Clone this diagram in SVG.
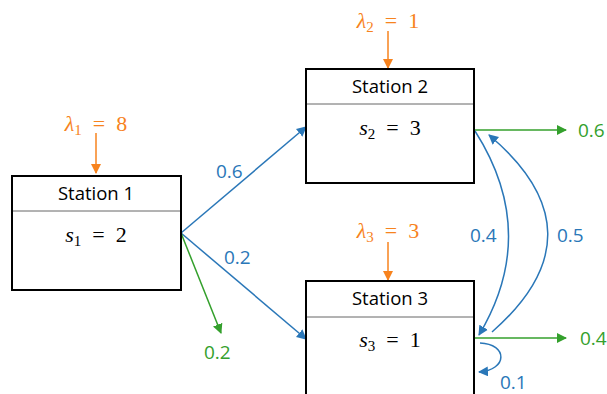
<svg xmlns="http://www.w3.org/2000/svg" width="607" height="394" viewBox="0 0 607 394">
<defs>
<marker id="ab" viewBox="0 0 10 10" refX="9" refY="5" markerWidth="10" markerHeight="10" markerUnits="userSpaceOnUse" orient="auto"><path d="M0,0 L10,5 L0,10 z" fill="#2a77b8"/></marker>
<marker id="ag" viewBox="0 0 10 10" refX="9" refY="5" markerWidth="10" markerHeight="10" markerUnits="userSpaceOnUse" orient="auto"><path d="M0,0 L10,5 L0,10 z" fill="#34a02c"/></marker>
<marker id="ao" viewBox="0 0 10 10" refX="9" refY="5" markerWidth="10" markerHeight="10" markerUnits="userSpaceOnUse" orient="auto"><path d="M0,0 L10,5 L0,10 z" fill="#f7831e"/></marker>
</defs>
<style>
.box{fill:#fff;stroke:#000;stroke-width:2}
.div{stroke:#666;stroke-width:1}
.title{font-family:"Open Sans","Liberation Sans",sans-serif;font-size:18.5px;fill:#000;text-anchor:middle}
.math{font-family:"Liberation Serif","DejaVu Serif",serif;font-size:22px;fill:#000;text-anchor:middle}
.it{font-style:italic}
.sub{font-size:15px}
.b{stroke:#2a77b8;stroke-width:1.5;fill:none}
.g{stroke:#34a02c;stroke-width:1.5;fill:none}
.o{stroke:#f7831e;stroke-width:1.5;fill:none}
.lb{font-family:"Open Sans","Liberation Sans",sans-serif;font-size:19px;fill:#2a77b8}
.lg{font-family:"Open Sans","Liberation Sans",sans-serif;font-size:19px;fill:#34a02c}
.lo{font-family:"Liberation Serif","DejaVu Serif",serif;font-size:22px;fill:#f7831e;text-anchor:middle}
</style>
<g id="connectors">
<line class="o" x1="96" y1="133" x2="96" y2="173" marker-end="url(#ao)"/>
<line class="o" x1="388" y1="31" x2="388" y2="68" marker-end="url(#ao)"/>
<line class="o" x1="388" y1="242" x2="388" y2="280" marker-end="url(#ao)"/>
<line class="b" x1="181" y1="233" x2="306" y2="127" marker-end="url(#ab)"/>
<line class="b" x1="181" y1="233" x2="306" y2="339" marker-end="url(#ab)"/>
<line class="g" x1="181" y1="233" x2="221" y2="333" marker-end="url(#ag)"/>
<line class="g" x1="474" y1="130" x2="566" y2="130" marker-end="url(#ag)"/>
<line class="g" x1="474" y1="338" x2="566" y2="338" marker-end="url(#ag)"/>
<path class="b" d="M475,131 Q540,233 479,335" marker-end="url(#ab)"/>
<path class="b" d="M492,332 Q605,233 489,135" marker-end="url(#ab)"/>
<path class="b" d="M480,343 C508,344 508,370 479,372" marker-end="url(#ab)"/>
<text class="lb" x="216" y="178">0.6</text>
<text class="lb" x="224" y="264">0.2</text>
<text class="lg" x="204" y="359">0.2</text>
<text class="lg" x="578" y="137">0.6</text>
<text class="lg" x="580" y="345">0.4</text>
<text class="lb" x="470" y="242">0.4</text>
<text class="lb" x="557" y="242">0.5</text>
<text class="lb" x="500" y="389">0.1</text>
<text class="lo" x="96" y="131" xml:space="preserve"><tspan class="it">λ</tspan><tspan class="sub" dy="4">1</tspan><tspan dy="-4">  =  8</tspan></text>
<text class="lo" x="388" y="28" xml:space="preserve"><tspan class="it">λ</tspan><tspan class="sub" dy="4">2</tspan><tspan dy="-4">  =  1</tspan></text>
<text class="lo" x="388" y="238" xml:space="preserve"><tspan class="it">λ</tspan><tspan class="sub" dy="4">3</tspan><tspan dy="-4">  =  3</tspan></text>
</g>
<g id="station1">
<rect class="box" x="12" y="176" width="169" height="114"/>
<line class="div" x1="13" y1="211" x2="180" y2="211"/>
<text class="title" x="96" y="200">Station 1</text>
<text class="math" x="96" y="242" xml:space="preserve"><tspan class="it">s</tspan><tspan class="sub" dy="4">1</tspan><tspan dy="-4">  =  2</tspan></text>
</g>
<g id="station2">
<rect class="box" x="306" y="69" width="168" height="114"/>
<line class="div" x1="307" y1="104" x2="473" y2="104"/>
<text class="title" x="390" y="93">Station 2</text>
<text class="math" x="390" y="135" xml:space="preserve"><tspan class="it">s</tspan><tspan class="sub" dy="4">2</tspan><tspan dy="-4">  =  3</tspan></text>
</g>
<g id="station3">
<rect class="box" x="306" y="281" width="168" height="120"/>
<line class="div" x1="307" y1="317" x2="473" y2="317"/>
<text class="title" x="390" y="305">Station 3</text>
<text class="math" x="390" y="347" xml:space="preserve"><tspan class="it">s</tspan><tspan class="sub" dy="4">3</tspan><tspan dy="-4">  =  1</tspan></text>
</g>
</svg>
